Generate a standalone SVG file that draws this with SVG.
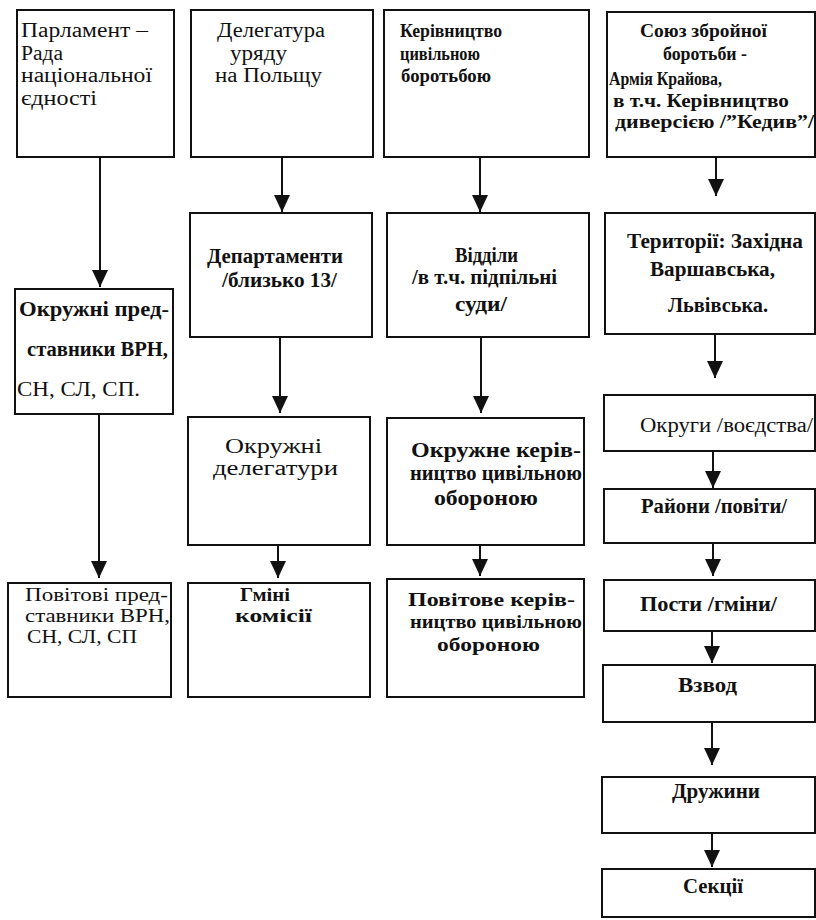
<svg xmlns="http://www.w3.org/2000/svg" width="816" height="920" viewBox="0 0 816 920" xml:space="preserve">
<style>
.bx { fill: #fff; stroke: #111; stroke-width: 2; }
text { font-family: "Liberation Serif", "Times New Roman", serif; font-size: 20px; fill: #111; }
.bd text { font-weight: bold; }
.rg { font-weight: normal !important; }
.sm text { font-size: 18px; }
.md text { font-size: 19px; }
#connectors line { stroke: #111; stroke-width: 2; }
</style>
<defs>
<marker id="ah" markerUnits="userSpaceOnUse" markerWidth="17" markerHeight="16" refX="17" refY="8" orient="auto" viewBox="0 0 17 16">
<path d="M0,0 L17,8 L0,16 Z" fill="#111"/>
</marker>
</defs>
<rect width="816" height="920" fill="#fff"/>

<g id="connectors">
<line x1="100" y1="157" x2="100" y2="287" marker-end="url(#ah)"/>
<line x1="282" y1="157" x2="282" y2="212" marker-end="url(#ah)"/>
<line x1="480" y1="157" x2="480" y2="212" marker-end="url(#ah)"/>
<line x1="716" y1="157" x2="716" y2="196" marker-end="url(#ah)"/>
<line x1="280" y1="337" x2="280" y2="413" marker-end="url(#ah)"/>
<line x1="481" y1="337" x2="481" y2="413" marker-end="url(#ah)"/>
<line x1="715" y1="334" x2="715" y2="378" marker-end="url(#ah)"/>
<line x1="99" y1="414" x2="99" y2="578" marker-end="url(#ah)"/>
<line x1="278" y1="545" x2="278" y2="578" marker-end="url(#ah)"/>
<line x1="480" y1="545" x2="480" y2="576" marker-end="url(#ah)"/>
<line x1="713" y1="451" x2="713" y2="488" marker-end="url(#ah)"/>
<line x1="713" y1="543" x2="713" y2="576" marker-end="url(#ah)"/>
<line x1="712" y1="631" x2="712" y2="663" marker-end="url(#ah)"/>
<line x1="712" y1="722" x2="712" y2="765" marker-end="url(#ah)"/>
<line x1="712" y1="833" x2="712" y2="867" marker-end="url(#ah)"/>
</g>

<g id="n1">
<rect class="bx" x="17" y="10" width="157" height="147"/>
<text x="21" y="37" textLength="127" lengthAdjust="spacingAndGlyphs">Парламент –</text>
<text x="21" y="60" textLength="42" lengthAdjust="spacingAndGlyphs">Рада</text>
<text x="21" y="82" textLength="131" lengthAdjust="spacingAndGlyphs">національної</text>
<text x="21" y="105" textLength="76" lengthAdjust="spacingAndGlyphs">єдності</text>
</g>

<g id="n2">
<rect class="bx" x="191" y="10" width="182" height="147"/>
<text x="217" y="37" textLength="108" lengthAdjust="spacingAndGlyphs">Делегатура</text>
<text x="230" y="60" textLength="57" lengthAdjust="spacingAndGlyphs">уряду</text>
<text x="215" y="82" textLength="107" lengthAdjust="spacingAndGlyphs">на   Польщу</text>
</g>

<g id="n3" class="bd md">
<rect class="bx" x="384" y="10" width="205" height="147"/>
<text x="400" y="37" textLength="102" lengthAdjust="spacingAndGlyphs">Керівництво</text>
<text x="400" y="60" textLength="80" lengthAdjust="spacingAndGlyphs">цивільною</text>
<text x="401" y="82" textLength="90" lengthAdjust="spacingAndGlyphs">боротьбою</text>
</g>

<g id="n4" class="bd md">
<rect class="bx" x="607" y="12" width="208" height="145"/>
<text x="640" y="37" textLength="127" lengthAdjust="spacingAndGlyphs">Союз збройної</text>
<text x="663" y="60" textLength="84" lengthAdjust="spacingAndGlyphs">боротьби -</text>
<text x="609" y="85" textLength="113" lengthAdjust="spacingAndGlyphs">Армія Крайова,</text>
<text x="613" y="107" textLength="176" lengthAdjust="spacingAndGlyphs">в  т.ч. Керівництво</text>
<text x="615" y="128" textLength="199" lengthAdjust="spacingAndGlyphs">диверсією /”Кедив”/</text>
</g>

<g id="n5" class="bd">
<rect class="bx" x="15" y="289" width="158" height="125"/>
<text x="19" y="316" textLength="150" lengthAdjust="spacingAndGlyphs">Окружні   пред-</text>
<text x="27" y="356" textLength="141" lengthAdjust="spacingAndGlyphs">ставники ВРН,</text>
<text class="rg" x="17" y="396" textLength="123" lengthAdjust="spacingAndGlyphs">СН, СЛ, СП.</text>
</g>

<g id="n6" class="bd">
<rect class="bx" x="190" y="213" width="182" height="124"/>
<text x="207" y="263" textLength="136" lengthAdjust="spacingAndGlyphs">Департаменти</text>
<text x="222" y="287" textLength="115" lengthAdjust="spacingAndGlyphs">/близько 13/</text>
</g>

<g id="n7" class="bd">
<rect class="bx" x="387" y="213" width="202" height="124"/>
<text x="455" y="262" textLength="63" lengthAdjust="spacingAndGlyphs">Відділи</text>
<text x="412" y="284" textLength="145" lengthAdjust="spacingAndGlyphs">/в т.ч. підпільні</text>
<text x="455" y="311" textLength="52" lengthAdjust="spacingAndGlyphs">суди/</text>
</g>

<g id="n8" class="bd">
<rect class="bx" x="605" y="213" width="210" height="121"/>
<text x="627" y="248" textLength="176" lengthAdjust="spacingAndGlyphs">Території: Західна</text>
<text x="650" y="276" textLength="125" lengthAdjust="spacingAndGlyphs">Варшавська,</text>
<text x="668" y="312" textLength="100" lengthAdjust="spacingAndGlyphs">Львівська.</text>
</g>

<g id="n9">
<rect class="bx" x="188" y="417" width="182" height="128"/>
<text x="225" y="453" textLength="97" lengthAdjust="spacingAndGlyphs">Окружні</text>
<text x="213" y="475" textLength="125" lengthAdjust="spacingAndGlyphs">делегатури</text>
</g>

<g id="n10" class="bd">
<rect class="bx" x="387" y="418" width="197" height="127"/>
<text x="411" y="457" textLength="170" lengthAdjust="spacingAndGlyphs">Окружне   керів-</text>
<text x="410" y="480" textLength="172" lengthAdjust="spacingAndGlyphs">ництво цивільною</text>
<text x="434" y="505" textLength="104" lengthAdjust="spacingAndGlyphs">обороною</text>
</g>

<g id="n11">
<rect class="bx" x="604" y="395" width="211" height="56"/>
<text x="640" y="432" textLength="173" lengthAdjust="spacingAndGlyphs">Округи /воєдства/</text>
</g>

<g id="n12" class="sm">
<rect class="bx" x="8" y="583" width="163" height="114"/>
<text x="25" y="601" textLength="143" lengthAdjust="spacingAndGlyphs">Повітові   пред-</text>
<text x="25" y="622" textLength="145" lengthAdjust="spacingAndGlyphs">ставники  ВРН,</text>
<text x="27" y="643" textLength="110" lengthAdjust="spacingAndGlyphs">СН, СЛ, СП</text>
</g>

<g id="n13" class="bd sm">
<rect class="bx" x="188" y="583" width="182" height="114"/>
<text x="240" y="601" textLength="50" lengthAdjust="spacingAndGlyphs">Гміні</text>
<text x="235" y="622" textLength="77" lengthAdjust="spacingAndGlyphs">комісії</text>
</g>

<g id="n14" class="bd sm">
<rect class="bx" x="387" y="579" width="197" height="118"/>
<text x="408" y="606" textLength="167" lengthAdjust="spacingAndGlyphs">Повітове   керів-</text>
<text x="410" y="628" textLength="172" lengthAdjust="spacingAndGlyphs">ництво цивільною</text>
<text x="437" y="651" textLength="103" lengthAdjust="spacingAndGlyphs">обороною</text>
</g>

<g id="n15" class="bd">
<rect class="bx" x="604" y="489" width="211" height="54"/>
<text x="641" y="513" textLength="146" lengthAdjust="spacingAndGlyphs">Райони /повіти/</text>
</g>

<g id="n16" class="bd">
<rect class="bx" x="604" y="580" width="211" height="51"/>
<text x="640" y="611" textLength="137" lengthAdjust="spacingAndGlyphs">Пости /гміни/</text>
</g>

<g id="n17" class="bd">
<rect class="bx" x="603" y="665" width="212" height="57"/>
<text x="678" y="692" textLength="59" lengthAdjust="spacingAndGlyphs">Взвод</text>
</g>

<g id="n18" class="bd">
<rect class="bx" x="602" y="777" width="213" height="56"/>
<text x="672" y="798" textLength="88" lengthAdjust="spacingAndGlyphs">Дружини</text>
</g>

<g id="n19" class="bd">
<rect class="bx" x="602" y="869" width="213" height="48"/>
<text x="683" y="893" textLength="60" lengthAdjust="spacingAndGlyphs">Секції</text>
</g>
</svg>
